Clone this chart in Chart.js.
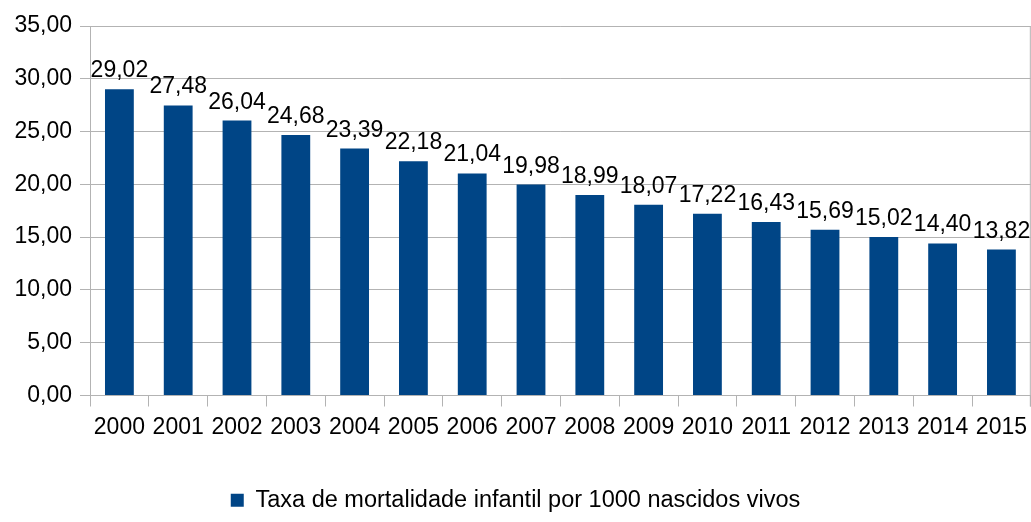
<!DOCTYPE html>
<html>
<head>
<meta charset="utf-8">
<script src="https://cdn.jsdelivr.net/npm/chart.js@4/dist/chart.umd.min.js"></script>
<style>
  html, body { margin: 0; padding: 0; background: #fff; }
  canvas { display: block; }
</style>
</head>
<body>
<canvas id="myChart" width="1031" height="522"></canvas>
<script>
  // dados
  const anos = ['2000','2001','2002','2003','2004','2005','2006','2007','2008','2009','2010','2011','2012','2013','2014','2015'];
  const taxas = [29.02, 27.48, 26.04, 24.68, 23.39, 22.18, 21.04, 19.98, 18.99, 18.07, 17.22, 16.43, 15.69, 15.02, 14.40, 13.82];
  const serieNome = 'Taxa de mortalidade infantil por 1000 nascidos vivos';
  const yMin = 0, yMax = 35, yPasso = 5;

  const fonte = "'Liberation Sans', Arial, sans-serif";
  const azul = '#004586';
  const cinza = '#b3b3b3';

  const fmt = v => v.toFixed(2).replace('.', ',');

  const rotulos = {
    id: 'rotulos',
    afterDatasetsDraw(chart) {
      const ctx = chart.ctx;
      const meta = chart.getDatasetMeta(0);
      ctx.save();
      ctx.font = '23px ' + fonte;
      ctx.fillStyle = '#000';
      ctx.textAlign = 'center';
      ctx.textBaseline = 'alphabetic';
      meta.data.forEach((bar, i) => {
        ctx.fillText(fmt(taxas[i]), bar.x, bar.y - 12);
      });
      ctx.restore();
    },
    afterDraw(chart) {
      // linha da borda direita
      const a = chart.chartArea;
      const ctx = chart.ctx;
      ctx.save();
      ctx.strokeStyle = cinza;
      ctx.lineWidth = 1;
      ctx.beginPath();
      ctx.moveTo(a.right - 0.5, a.top);
      ctx.lineTo(a.right - 0.5, a.bottom + 11);
      ctx.stroke();
      ctx.restore();
    }
  };

  const ctx = document.getElementById('myChart');
  new Chart(ctx, {
    type: 'bar',
    data: {
      labels: anos,
      datasets: [{
        label: serieNome,
        data: taxas,
        backgroundColor: azul,
        borderWidth: 0,
        barPercentage: 0.49,
        categoryPercentage: 1
      }]
    },
    options: {
      responsive: false,
      animation: false,
      layout: { padding: { top: 26, right: 0, left: 0, bottom: 0 } },
      plugins: {
        tooltip: { enabled: false },
        legend: {
          position: 'bottom',
          labels: {
            font: { family: fonte, size: 23.5 },
            color: '#000',
            boxWidth: 13,
            boxHeight: 13,
            padding: 4
          }
        }
      },
      scales: {
        y: {
          min: yMin,
          max: yMax,
          ticks: {
            stepSize: yPasso,
            callback: v => fmt(v),
            font: { family: fonte, size: 23 },
            color: '#000',
            padding: 8
          },
          grid: { color: cinza, tickLength: 10 },
          border: { color: cinza },
          afterFit: s => { s.width = 90; }
        },
        x: {
          ticks: {
            font: { family: fonte, size: 23, lineHeight: 1.5 },
            color: '#000',
            padding: 4,
            maxRotation: 0,
            autoSkip: false
          },
          grid: { offset: true, drawOnChartArea: false, color: cinza, tickLength: 11 },
          border: { color: cinza },
          afterFit: s => { s.height = 89; }
        }
      }
    },
    plugins: [rotulos]
  });
</script>
</body>
</html>
